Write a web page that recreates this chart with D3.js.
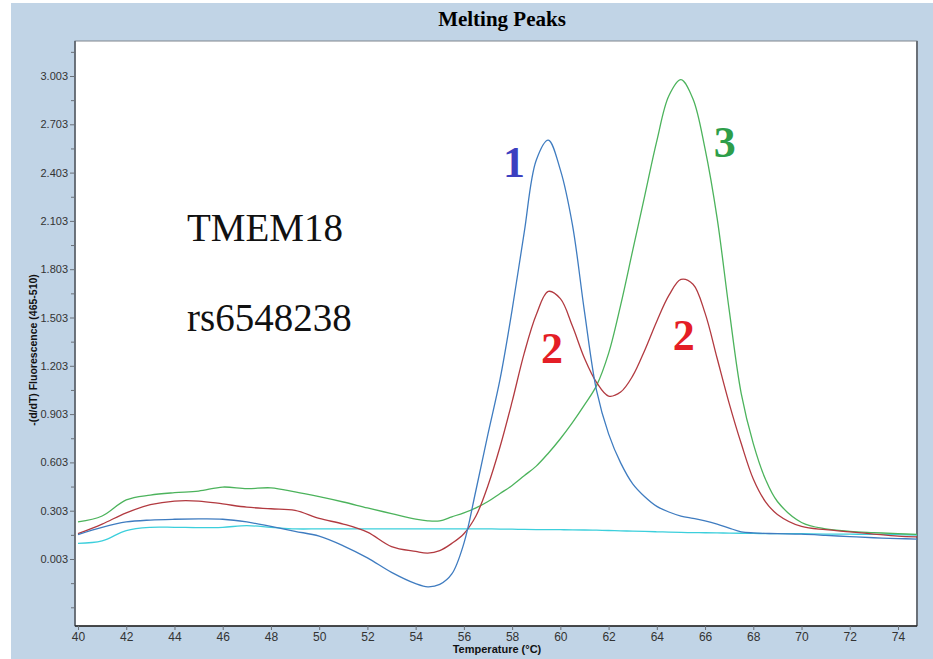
<!DOCTYPE html>
<html>
<head>
<meta charset="utf-8">
<script src="https://cdn.jsdelivr.net/npm/d3@7"></script>
<style>
  body { margin: 0; background: #fff; }
  svg { display: block; }
</style>
</head>
<body>
<div id="chart"></div>
<script>
// temperatures (°C) shared by all four curves
var temps = [40, 41, 42, 43, 44, 45, 46, 47, 48, 49, 50, 51, 52, 53, 54, 54.5, 55, 55.5, 56, 56.5,
  57, 57.5, 58, 58.5, 59, 59.5, 60, 60.5, 61, 61.5, 62, 62.5, 63, 63.5, 64, 64.5, 65, 65.5, 66, 66.5,
  67, 67.5, 68, 68.5, 69, 70, 71, 72, 73, 74, 74.8];

var blueVals = [0.155, 0.20, 0.233, 0.245, 0.25, 0.252, 0.25, 0.233, 0.205, 0.175, 0.145, 0.085, 0.01, -0.08, -0.15, -0.17, -0.155, -0.09, 0.10, 0.43,
  0.78, 1.12, 1.55, 2.03, 2.48, 2.605, 2.42, 2.08, 1.54, 1.05, 0.78, 0.60, 0.47, 0.39, 0.33, 0.295, 0.27, 0.255, 0.24, 0.22,
  0.195, 0.172, 0.165, 0.162, 0.16, 0.157, 0.15, 0.142, 0.135, 0.13, 0.127];

var redVals = [0.16, 0.22, 0.29, 0.34, 0.363, 0.363, 0.345, 0.325, 0.315, 0.305, 0.255, 0.22, 0.17, 0.08, 0.05, 0.04, 0.055, 0.10, 0.16, 0.27,
  0.46, 0.70, 0.98, 1.28, 1.52, 1.665, 1.62, 1.45, 1.25, 1.10, 1.015, 1.04, 1.14, 1.30, 1.48, 1.64, 1.74, 1.71, 1.53, 1.25,
  0.97, 0.72, 0.50, 0.36, 0.28, 0.205, 0.185, 0.172, 0.158, 0.145, 0.14];

var greenVals = [0.233, 0.27, 0.37, 0.40, 0.415, 0.425, 0.45, 0.44, 0.445, 0.42, 0.39, 0.357, 0.32, 0.285, 0.25, 0.24, 0.24, 0.265, 0.29, 0.32,
  0.36, 0.41, 0.46, 0.52, 0.58, 0.66, 0.75, 0.85, 0.96, 1.08, 1.28, 1.58, 1.92, 2.26, 2.6, 2.88, 2.98, 2.86, 2.55, 2.12,
  1.55, 1.03, 0.72, 0.50, 0.36, 0.23, 0.19, 0.175, 0.167, 0.16, 0.156];

var cyanVals = [0.10, 0.115, 0.18, 0.20, 0.20, 0.198, 0.20, 0.21, 0.20, 0.19, 0.19, 0.19, 0.19, 0.19, 0.19, 0.19, 0.19, 0.19, 0.19, 0.19,
  0.19, 0.189, 0.188, 0.187, 0.186, 0.185, 0.185, 0.184, 0.183, 0.182, 0.18, 0.178, 0.176, 0.174, 0.172, 0.17, 0.168, 0.167, 0.166, 0.165,
  0.164, 0.163, 0.162, 0.161, 0.16, 0.16, 0.158, 0.157, 0.156, 0.154, 0.152];

var yTicks = [0.003, 0.303, 0.603, 0.903, 1.203, 1.503, 1.803, 2.103, 2.403, 2.703, 3.003];
var yMinor = [-0.297, -0.147, 0.153, 0.453, 0.753, 1.053, 1.353, 1.653, 1.953, 2.253, 2.553, 2.853, 3.153];
var xTicks = [40, 42, 44, 46, 48, 50, 52, 54, 56, 58, 60, 62, 64, 66, 68, 70, 72, 74];

// text annotations in data units
var notes = [
  { text: "TMEM18", t: 44.52, v: 1.978, color: "#111", size: 39, weight: "normal", anchor: "start" },
  { text: "rs6548238", t: 44.52, v: 1.419, color: "#111", size: 39, weight: "normal", anchor: "start" },
  { text: "1", t: 58.08, v: 2.376, color: "#3c3fc0", size: 44, weight: "bold", anchor: "middle" },
  { text: "3", t: 66.82, v: 2.50, color: "#2e9e4a", size: 44, weight: "bold", anchor: "middle" },
  { text: "2", t: 59.65, v: 1.22, color: "#e41e26", size: 44, weight: "bold", anchor: "middle" },
  { text: "2", t: 65.12, v: 1.30, color: "#e41e26", size: 44, weight: "bold", anchor: "middle" }
];

var W = 933, H = 659;
var plot = { left: 75, top: 41, right: 917, bottom: 626 };

var svg = d3.select("#chart").append("svg").attr("width", W).attr("height", H);

svg.append("rect").attr("x", 11).attr("y", 3).attr("width", W - 11).attr("height", H - 3).attr("fill", "#c1d4e6");

svg.append("text")
  .attr("x", 502).attr("y", 26)
  .attr("text-anchor", "middle")
  .style("font-family", "'Liberation Serif', 'Times New Roman', serif")
  .style("font-weight", "bold")
  .style("font-size", "21px")
  .text("Melting Peaks");

var xs = d3.scaleLinear().domain([40, 74]).range([78, 898]);
var ys = d3.scaleLinear().domain([0.003, 3.003]).range([559, 76]);

// plot area
svg.append("rect")
  .attr("x", plot.left).attr("y", plot.top)
  .attr("width", plot.right - plot.left).attr("height", plot.bottom - plot.top)
  .attr("fill", "#fff").attr("stroke", "#80868e").attr("stroke-width", 1);
svg.append("line").attr("x1", plot.right).attr("x2", plot.right).attr("y1", plot.top).attr("y2", plot.bottom)
  .attr("stroke", "#6a7078").attr("stroke-width", 2);
svg.append("line").attr("x1", plot.left).attr("x2", plot.left).attr("y1", plot.top).attr("y2", plot.bottom)
  .attr("stroke", "#555b63").attr("stroke-width", 1.5);
svg.append("line").attr("x1", plot.left).attr("x2", plot.right).attr("y1", plot.bottom).attr("y2", plot.bottom)
  .attr("stroke", "#222").attr("stroke-width", 1.5);

var tickFont = "'Liberation Sans', Arial, sans-serif";

// y axis
var yAxis = svg.append("g").attr("transform", "translate(" + plot.left + ",0)")
  .call(d3.axisLeft(ys).tickValues(yTicks).tickFormat(d3.format(".3f")).tickSize(5).tickPadding(2));
yAxis.select(".domain").remove();
yAxis.selectAll("line").attr("stroke", "#6a7078");
yAxis.selectAll("text").style("font-family", tickFont).style("font-size", "11px").attr("fill", "#333");
svg.append("g").attr("transform", "translate(" + plot.left + ",0)")
  .call(d3.axisLeft(ys).tickValues(yMinor).tickFormat("").tickSize(4))
  .call(g => g.select(".domain").remove())
  .selectAll("line").attr("stroke", "#6a7078");

// x axis
var xAxis = svg.append("g").attr("transform", "translate(0," + plot.bottom + ")")
  .call(d3.axisBottom(xs).tickValues(xTicks).tickFormat(d3.format("d")).tickSize(4).tickPadding(2));
xAxis.select(".domain").remove();
xAxis.selectAll("line").attr("stroke", "#6a7078");
xAxis.selectAll("text").style("font-family", tickFont).style("font-size", "12px").attr("fill", "#333");

svg.append("text")
  .attr("x", 497).attr("y", 653)
  .attr("text-anchor", "middle")
  .style("font-family", tickFont).style("font-weight", "bold").style("font-size", "11px")
  .attr("fill", "#111")
  .text("Temperature (°C)");

svg.append("text")
  .attr("transform", "translate(37,350) rotate(-90)")
  .attr("text-anchor", "middle")
  .style("font-family", tickFont).style("font-weight", "bold").style("font-size", "10.5px")
  .attr("fill", "#111")
  .text("-(d/dT) Fluorescence (465-510)");

// curves
var series = [
  { vals: cyanVals, color: "#3ccfdc" },
  { vals: greenVals, color: "#4cb35c" },
  { vals: redVals, color: "#b23a40" },
  { vals: blueVals, color: "#3f7cc0" }
];

svg.append("clipPath").attr("id", "clip").append("rect")
  .attr("x", plot.left).attr("y", plot.top).attr("width", plot.right - plot.left).attr("height", plot.bottom - plot.top);

var line = d3.line()
  .x(d => xs(d[0]))
  .y(d => ys(d[1]))
  .curve(d3.curveCatmullRom.alpha(0.5));

svg.append("g").attr("clip-path", "url(#clip)")
  .selectAll("path")
  .data(series)
  .enter()
  .append("path")
  .attr("d", s => line(temps.map((t, i) => [t, s.vals[i]])))
  .attr("fill", "none")
  .attr("stroke", s => s.color)
  .attr("stroke-width", 1.3);

svg.selectAll(".note")
  .data(notes)
  .enter()
  .append("text")
  .attr("class", "note")
  .attr("x", d => xs(d.t))
  .attr("y", d => ys(d.v))
  .attr("text-anchor", d => d.anchor)
  .attr("fill", d => d.color)
  .style("font-family", "'Liberation Serif', 'Times New Roman', serif")
  .style("font-weight", d => d.weight)
  .style("font-size", d => d.size + "px")
  .text(d => d.text);
</script>
</body>
</html>
